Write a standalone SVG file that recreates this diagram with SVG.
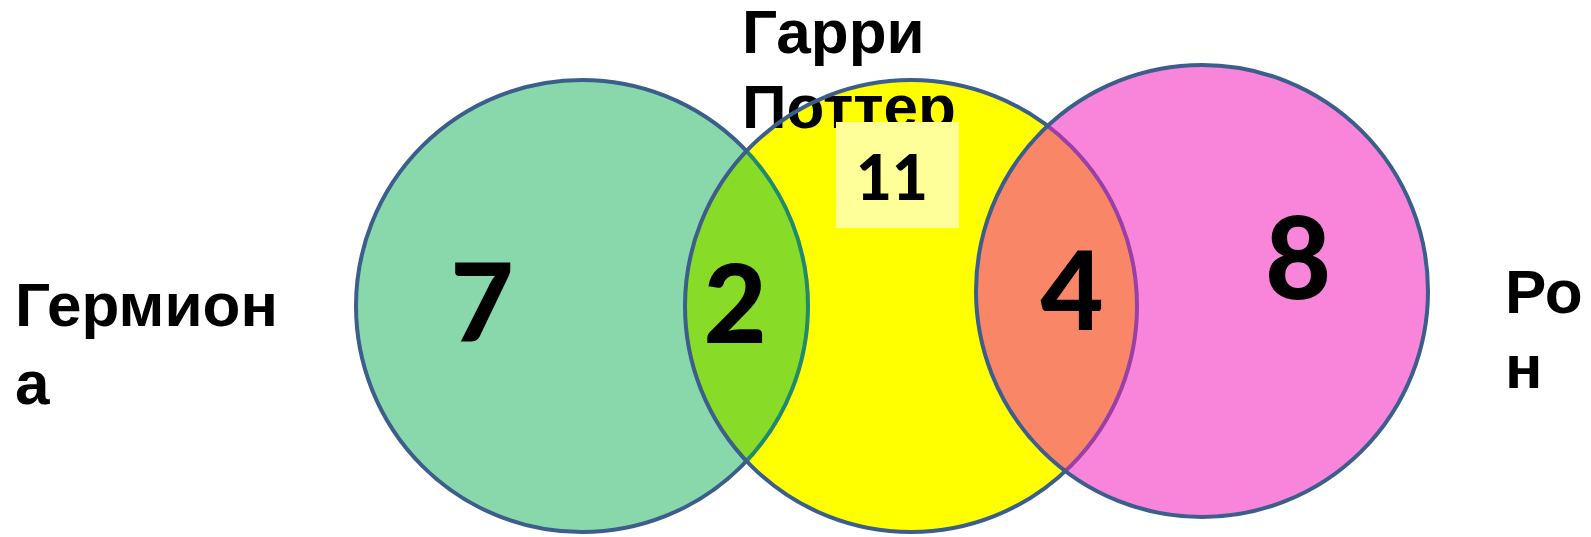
<svg xmlns="http://www.w3.org/2000/svg" width="1591" height="537" viewBox="0 0 1591 537">
  <style>
    .label { font-family: "Liberation Sans", Arial, sans-serif; font-weight: bold; font-size: 62px; fill: #000; }
    .num { font-family: Lato, "Open Sans", sans-serif; font-weight: 900; fill: #000; text-anchor: middle; }
    .edge { fill: none; stroke: #3B5E8C; stroke-width: 4; }
  </style>
  <defs>
    <circle id="c-left" cx="582" cy="306" r="226"/>
    <circle id="c-mid" cx="911" cy="306" r="226"/>
    <circle id="c-right" cx="1202" cy="291" r="226"/>
    <clipPath id="in-mid"><use href="#c-mid"/></clipPath>
    <clipPath id="in-right"><use href="#c-right"/></clipPath>
  </defs>

  <!-- Hermione set -->
  <g id="set-hermione">
    <use href="#c-left" fill="#88D8AC" stroke="#3B5E8C" stroke-width="4"/>
  </g>

  <!-- Harry set with Hermione overlap -->
  <g id="set-harry">
    <use href="#c-mid" fill="#FFFF00"/>
    <g clip-path="url(#in-mid)">
      <use href="#c-left" fill="#88DB26" stroke="#1F8A6F" stroke-width="4"/>
    </g>
  </g>

  <g id="title-harry">
    <text class="label" x="742" y="53">Гарри</text>
    <text class="label" x="742" y="128">Поттер</text>
  </g>

  <use href="#c-mid" class="edge"/>

  <!-- Ron set with Harry overlap -->
  <g id="set-ron">
    <use href="#c-right" fill="#F985DA"/>
    <g clip-path="url(#in-right)">
      <use href="#c-mid" fill="#F98767" stroke="#9A3FA8" stroke-width="4"/>
    </g>
    <use href="#c-right" class="edge"/>
  </g>

  <!-- Harry-only count -->
  <g id="count-harry">
    <rect x="836" y="122" width="123" height="106" fill="#FFFF99"/>
    <text class="num" x="892" y="200" font-size="62">11</text>
  </g>

  <g id="counts">
    <text class="num" x="482" y="342" font-size="109">7</text>
    <text class="num" x="735" y="343" font-size="109">2</text>
    <text class="num" x="1072" y="330" font-size="109">4</text>
    <text class="num" x="1298" y="299" font-size="114">8</text>
  </g>

  <g id="title-hermione">
    <text class="label" x="15" y="326">Гермион</text>
    <text class="label" x="15" y="404">а</text>
  </g>

  <g id="title-ron">
    <text class="label" x="1505" y="313">Ро</text>
    <text class="label" x="1505" y="388">н</text>
  </g>
</svg>
